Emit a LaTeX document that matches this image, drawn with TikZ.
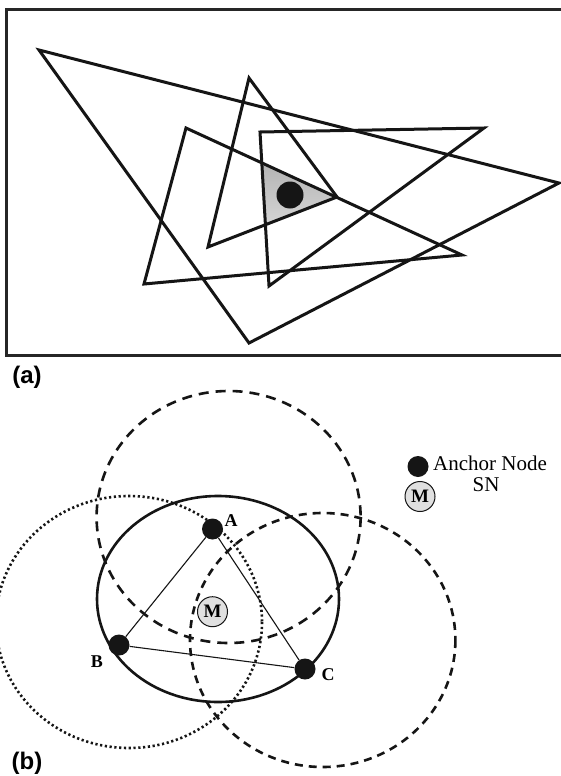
\documentclass[tikz,border=0pt]{standalone}
\usepackage{fontspec}
\setmainfont{Liberation Serif}
\newfontfamily\labelfont{Liberation Sans}
\usetikzlibrary{positioning}
\definecolor{inkblk}{HTML}{151515}
\definecolor{framegray}{HTML}{262626}
\definecolor{shade}{HTML}{7A7A7A}
\definecolor{mfill}{HTML}{E0E0E0}

\tikzset{
  tri/.style={draw=inkblk, line width=3pt, line join=miter},
  anchornode/.style={circle, fill=inkblk, inner sep=0pt, minimum size=21pt},
  mnode/.style={circle, draw=inkblk, line width=1pt, fill=mfill, inner sep=0pt, minimum size=30pt, font=\fontsize{19}{19}\selectfont\bfseries},
  ptlabel/.style={font=\fontsize{18}{18}\selectfont\bfseries, inner sep=1pt},
  panel/.style={font=\labelfont\fontsize{24}{24}\selectfont\bfseries, inner sep=0pt},
  link/.style={draw=inkblk, line width=1.1pt},
}

\begin{document}
\begin{tikzpicture}[x=1pt, y=-1pt]

% Canvas
\useasboundingbox (0,0) rectangle (561,776);
\fill[white] (0,0) rectangle (561,776);

% ---------- Panel (a) ----------
\draw[framegray, line width=3pt] (6,10) rectangle (566,355);

% Shaded overlap region
\begin{scope}
  \clip (249,78) -- (208,247) -- (337,197) -- cycle;
  \clip (186,128) -- (144,284) -- (462,255) -- cycle;
  \clip (260,132) -- (484,128) -- (269,286) -- cycle;
  \fill[shade] (140,70) rectangle (480,300);
\end{scope}

% Triangles
\draw[tri] (39,50) -- (559,183) -- (249,343) -- cycle;
\draw[tri] (249,78) -- (208,247) -- (337,197) -- cycle;
\draw[tri] (186,128) -- (144,284) -- (462,255) -- cycle;
\draw[tri] (260,132) -- (484,128) -- (269,286) -- cycle;

% Estimated position
\fill[inkblk] (290,195) circle (13.5);

\node[panel] (lbla) at (27,377) {(a)};

% ---------- Panel (b) ----------
% Ranges
\draw[inkblk, line width=2.6pt] (218,599) ellipse [x radius=121, y radius=103];
\draw[inkblk, line width=2.6pt, dash pattern=on 10pt off 7pt] (228.6,517) ellipse [x radius=132, y radius=126];
\draw[inkblk, line width=2.6pt, dash pattern=on 2.2pt off 2.6pt] (129,622) ellipse [x radius=133, y radius=126];
\draw[inkblk, line width=2.6pt, dash pattern=on 8pt off 6pt] (322.7,640) ellipse [x radius=132.7, y radius=127];

% Anchors
\node[anchornode] (A) at (212.5,529) {};
\node[anchornode] (B) at (119,645) {};
\node[anchornode] (C) at (305,669) {};

\draw[link] (A) -- (B);
\draw[link] (A) -- (C);
\draw[link] (B) -- (C);

\node[ptlabel] (lblA) at (231,521) {A};
\node[ptlabel] (lblB) at (97,662) {B};
\node[ptlabel] (lblC) at (328,675) {C};

% Sensor node
\node[mnode] (M) at (212.5,611.7) {M};

% Legend
\node[anchornode] (legA) at (418,466.5) {};
\node[anchor=west, inner sep=0pt, font=\fontsize{21}{21}\selectfont] (legAtxt) at (433,463) {Anchor Node};
\node[mnode] (legM) at (420,496.5) {M};
\node[inner sep=0pt, font=\fontsize{21}{21}\selectfont] (legMtxt) at (486,485) {SN};

\node[panel] (lblb) at (27,763) {(b)};

\end{tikzpicture}
\end{document}
